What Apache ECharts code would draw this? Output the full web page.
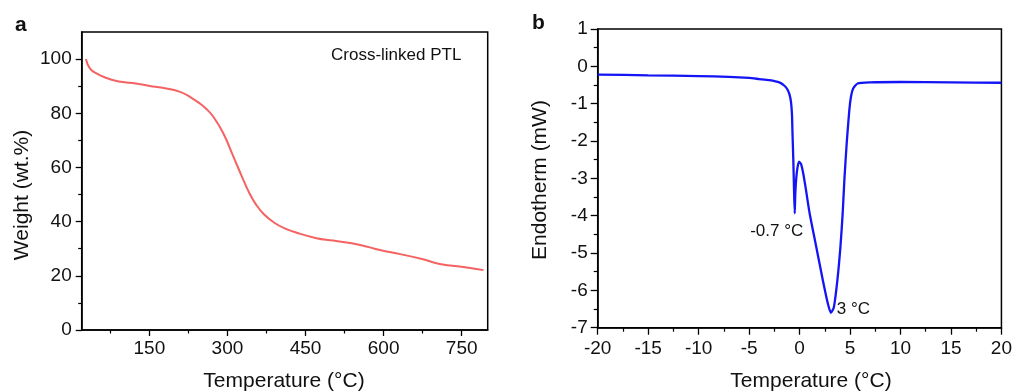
<!DOCTYPE html>
<html>
<head>
<meta charset="utf-8">
<script src="https://cdn.jsdelivr.net/npm/echarts@6/dist/echarts.min.js"></script>
<style>
html,body{margin:0;padding:0;background:#fff;}
#chart{width:1015px;height:392px;}
</style>
</head>
<body>
<div id="chart"></div>
<script>
// ---- Panel a: TGA ----
const tgaTemp = [28, 36, 50, 68, 85, 106, 130, 151, 175, 209, 230, 247, 260, 273, 292, 311, 327, 343, 355, 370, 390, 410, 433, 471, 503, 555, 593, 632, 676, 708, 760, 792];
const tgaWeight = [100, 96.5, 94.5, 93.0, 92.0, 91.4, 90.8, 90.1, 89.4, 87.9, 85.8, 83.6, 81.5, 78.7, 72.6, 64.2, 57.0, 50.2, 46.3, 42.7, 39.6, 37.5, 35.9, 33.9, 33.0, 31.4, 29.5, 28.0, 26.1, 24.4, 23.1, 22.1];
const tgaXTicks = [150, 300, 450, 600, 750];
const tgaXMinor = [75, 225, 375, 525, 675];
const tgaYTicks = [0, 20, 40, 60, 80, 100];
const tgaYMinor = [10, 30, 50, 70, 90];

// ---- Panel b: DSC ----
const dscTemp = [-20, -15, -10, -7, -5, -4, -3, -2, -1.5, -1.2, -1.0, -0.85, -0.75, -0.7, -0.62, -0.55, -0.48, -0.42, -0.33, -0.2, -0.05, 0.15, 0.35, 0.6, 1.0, 1.65, 2.3, 2.8, 3.1, 3.4, 3.75, 4.05, 4.27, 4.44, 4.67, 4.93, 5.1, 5.3, 5.75, 7, 10, 15, 20];
const dscHeat = [-0.22, -0.24, -0.26, -0.28, -0.31, -0.34, -0.37, -0.43, -0.52, -0.62, -0.75, -0.95, -1.3, -1.8, -2.5, -3.3, -3.94, -3.4, -3.0, -2.7, -2.55, -2.62, -2.85, -3.25, -3.94, -4.83, -5.72, -6.35, -6.6, -6.45, -5.72, -4.83, -3.94, -3.04, -2.06, -1.17, -0.8, -0.6, -0.46, -0.43, -0.42, -0.43, -0.44];

const panelLabels = ['a', 'b'];
const xNames = ['Temperature (°C)', 'Temperature (°C)'];
const yNames = ['Weight (wt.%)', 'Endotherm (mW)'];
const legendText = 'Cross-linked PTL';
const annotations = [
  {text: '-0.7 °C', x: -0.48, y: -3.94},
  {text: '3 °C', x: 3.1, y: -6.6}
];

const FONT = '"Liberation Sans", Arial, sans-serif';
const chart = echarts.init(document.getElementById('chart'));

const lbl = {fontFamily: FONT, fontSize: 19, color: '#111'};
const axLine = {show: true, onZero: false, lineStyle: {color: '#000', width: 1.5}};

function zip(a, b) { return a.map((v, i) => [v, b[i]]); }

const option = {
  animation: false,
  grid: [
    {left: 81.7, top: 32, width: 406, height: 298, show: true, borderColor: '#000', borderWidth: 1.5, backgroundColor: 'transparent'},
    {left: 597.7, top: 29, width: 405.6, height: 298.7, show: true, borderColor: '#000', borderWidth: 1.5, backgroundColor: 'transparent'}
  ],
  xAxis: [
    {gridIndex: 0, type: 'value', min: 20, max: 800,
     axisLine: axLine, splitLine: {show: false},
     axisTick: {show: true, inside: false, length: 6, lineStyle: {color: '#000', width: 1.3}, customValues: tgaXTicks},
     axisLabel: Object.assign({margin: 9, customValues: tgaXTicks}, lbl)},
    {gridIndex: 0, type: 'value', min: 20, max: 800, position: 'bottom',
     axisLine: {show: false, onZero: false}, splitLine: {show: false},
     axisTick: {show: true, length: 3.5, lineStyle: {color: '#000', width: 1.2}, customValues: tgaXMinor},
     axisLabel: {show: false}},
    {gridIndex: 1, type: 'value', min: -20, max: 20, interval: 5,
     axisLine: axLine, splitLine: {show: false},
     axisTick: {show: true, length: 7, lineStyle: {color: '#000', width: 1.3}},
     minorTick: {show: true, splitNumber: 2, length: 4, lineStyle: {color: '#000', width: 1.2}},
     axisLabel: Object.assign({margin: 12}, lbl)}
  ],
  yAxis: [
    {gridIndex: 0, type: 'value', min: 0, max: 110,
     axisLine: axLine, splitLine: {show: false},
     axisTick: {show: true, length: 6, lineStyle: {color: '#000', width: 1.3}, customValues: tgaYTicks},
     axisLabel: Object.assign({margin: 10, customValues: tgaYTicks}, lbl)},
    {gridIndex: 0, type: 'value', min: 0, max: 110, position: 'left',
     axisLine: {show: false, onZero: false}, splitLine: {show: false},
     axisTick: {show: true, length: 3.5, lineStyle: {color: '#000', width: 1.2}, customValues: tgaYMinor},
     axisLabel: {show: false}},
    {gridIndex: 1, type: 'value', min: -7, max: 1, interval: 1,
     axisLine: axLine, splitLine: {show: false},
     axisTick: {show: true, length: 7, lineStyle: {color: '#000', width: 1.3}},
     minorTick: {show: true, splitNumber: 2, length: 4, lineStyle: {color: '#000', width: 1.2}},
     axisLabel: Object.assign({margin: 10}, lbl)}
  ],
  series: [
    {type: 'line', xAxisIndex: 0, yAxisIndex: 0, data: zip(tgaTemp, tgaWeight),
     showSymbol: false, smooth: 0.45, lineStyle: {color: '#f56262', width: 2}},
    {type: 'line', xAxisIndex: 2, yAxisIndex: 2, data: zip(dscTemp, dscHeat),
     showSymbol: false, smooth: 0.2, lineStyle: {color: '#1414f5', width: 2.3},
     markPoint: {
       symbol: 'circle', symbolSize: 0,
       data: annotations.map((a, i) => ({
         coord: [a.x, a.y],
         label: {show: true, formatter: a.text, fontFamily: FONT, fontSize: 17, color: '#111',
                 position: i === 0 ? 'bottom' : 'right',
                 offset: i === 0 ? [-18, 4] : [1, -3]}
       }))
     }}
  ],
  graphic: [
    {type: 'text', left: 15, top: 15, style: {text: panelLabels[0], font: 'bold 21px ' + FONT, fill: '#111'}},
    {type: 'text', left: 532, top: 13, style: {text: panelLabels[1], font: 'bold 21px ' + FONT, fill: '#111'}},
    {type: 'text', x: 331, y: 55, style: {text: legendText, font: '17px ' + FONT, fill: '#111', textVerticalAlign: 'middle'}},
    {type: 'text', x: 284, y: 381, style: {text: xNames[0], font: '21px ' + FONT, fill: '#111', textAlign: 'center', textVerticalAlign: 'middle'}},
    {type: 'text', x: 811, y: 381, style: {text: xNames[1], font: '21px ' + FONT, fill: '#111', textAlign: 'center', textVerticalAlign: 'middle'}},
    {type: 'text', x: 22, y: 195, rotation: Math.PI / 2, style: {text: yNames[0], font: '21px ' + FONT, fill: '#111', textAlign: 'center', textVerticalAlign: 'middle'}},
    {type: 'text', x: 540, y: 180, rotation: Math.PI / 2, style: {text: yNames[1], font: '21px ' + FONT, fill: '#111', textAlign: 'center', textVerticalAlign: 'middle'}}
  ]
};
chart.setOption(option);
</script>
</body>
</html>
